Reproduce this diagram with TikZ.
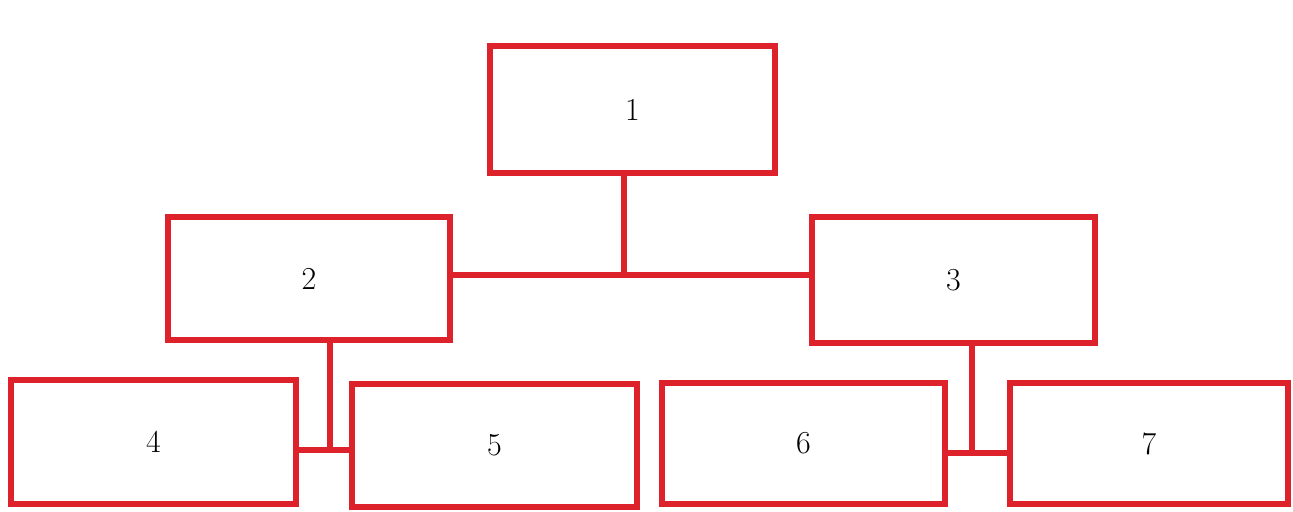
\documentclass[tikz,border=0pt]{standalone}
\usepackage{tikz}
\tikzset{
  orgbox/.style={draw=boxColor,line width=3pt,fill=white,inner sep=0pt,
    font=\fontsize{16}{18}\selectfont},
  orglink/.style={draw=boxColor,line width=3pt}
}
\begin{document}
\begin{tikzpicture}[x=0.5pt,y=-0.5pt]
\definecolor{boxColor}{RGB}{221,34,44}
\path[use as bounding box,fill=white] (0,0) rectangle (1293,511);

\node[orgbox,minimum width=142.5pt,minimum height=63.5pt] (b1) at (632.5,109.5) {1};
\node[orgbox,minimum width=141pt,minimum height=61.5pt] (b2) at (309,278.5) {2};
\node[orgbox,minimum width=141.5pt,minimum height=63pt] (b3) at (953.5,280) {3};
\node[orgbox,minimum width=142.5pt,minimum height=62pt] (b4) at (153.5,442) {4};
\node[orgbox,minimum width=142.5pt,minimum height=61.5pt] (b5) at (494.5,445.5) {5};
\node[orgbox,minimum width=141.5pt,minimum height=60.5pt] (b6) at (803.5,443.5) {6};
\node[orgbox,minimum width=139pt,minimum height=60.5pt] (b7) at (1149,443.5) {7};

\coordinate (j1) at (624,275);
\coordinate (j2) at (330,450);
\coordinate (j3) at (972,453);

\draw[orglink] (b1.south -| j1) -- (j1);
\draw[orglink] (b2.east |- j1) -- (b3.west |- j1);
\draw[orglink] (b2.south -| j2) -- (j2);
\draw[orglink] (b4.east |- j2) -- (b5.west |- j2);
\draw[orglink] (b3.south -| j3) -- (j3);
\draw[orglink] (b6.east |- j3) -- (b7.west |- j3);
\end{tikzpicture}
\end{document}
